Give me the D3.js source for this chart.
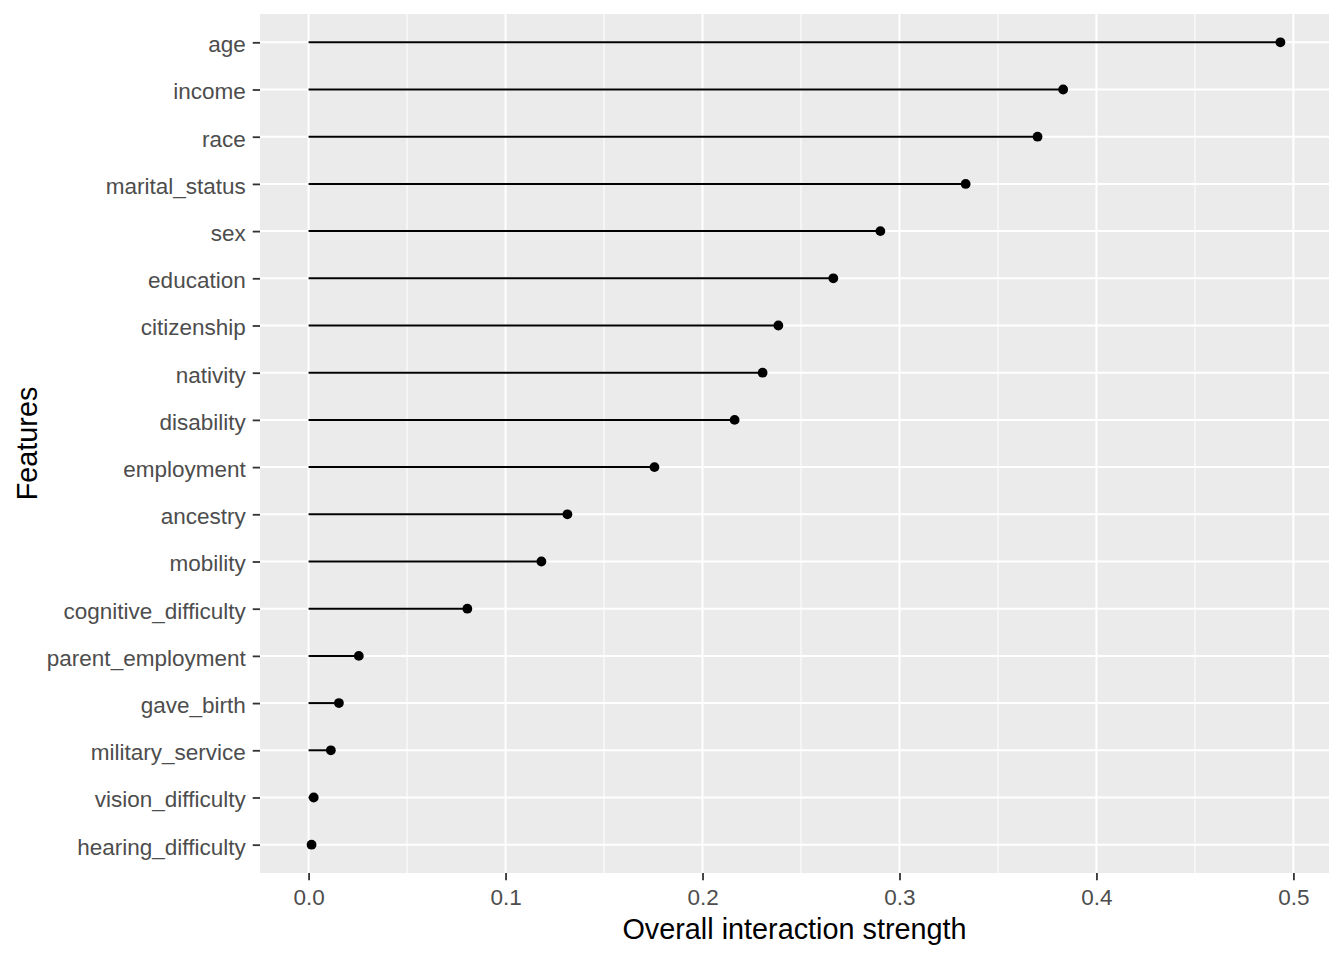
<!DOCTYPE html>
<html>
<head>
<meta charset="utf-8">
<script src="https://cdn.jsdelivr.net/npm/d3@7"></script>
<style>
  html, body { margin: 0; padding: 0; background: #ffffff; }
  svg { display: block; }
  text { font-family: "Liberation Sans", Arial, sans-serif; }
</style>
</head>
<body>
<svg id="chart" width="1344" height="960"></svg>
<script>
// ---- data (top-level named arrays) ----
const features = [
  "age", "income", "race", "marital_status", "sex", "education",
  "citizenship", "nativity", "disability", "employment", "ancestry",
  "mobility", "cognitive_difficulty", "parent_employment", "gave_birth",
  "military_service", "vision_difficulty", "hearing_difficulty"
];
const strength = [
  0.4934, 0.3831, 0.3701, 0.3336, 0.2903, 0.2664,
  0.2385, 0.2305, 0.2163, 0.1756, 0.1314,
  0.1182, 0.0806, 0.0255, 0.0154,
  0.0113, 0.0026, 0.0015
];
const xTicks = [0.0, 0.1, 0.2, 0.3, 0.4, 0.5];
const xMinor = [0.05, 0.15, 0.25, 0.35, 0.45];
const xTitle = "Overall interaction strength";
const yTitle = "Features";

// ---- layout ----
const svg = d3.select("#chart");
const panel = { left: 260, right: 1329, top: 14, bottom: 873 };

const dataMax = d3.max(strength);
const expand = dataMax * 0.05;
const x = d3.scaleLinear()
  .domain([0 - expand, dataMax + expand])
  .range([panel.left, panel.right]);

const y = d3.scalePoint()
  .domain(features)
  .range([panel.top, panel.bottom])
  .padding(0.6);

// panel background
svg.append("rect")
  .attr("x", panel.left).attr("y", panel.top)
  .attr("width", panel.right - panel.left)
  .attr("height", panel.bottom - panel.top)
  .attr("fill", "#EBEBEB");

// minor grid
svg.append("g").selectAll("line").data(xMinor).join("line")
  .attr("x1", d => x(d)).attr("x2", d => x(d))
  .attr("y1", panel.top).attr("y2", panel.bottom)
  .attr("stroke", "#ffffff").attr("stroke-width", 1);

// major grid vertical
svg.append("g").selectAll("line").data(xTicks).join("line")
  .attr("x1", d => x(d)).attr("x2", d => x(d))
  .attr("y1", panel.top).attr("y2", panel.bottom)
  .attr("stroke", "#ffffff").attr("stroke-width", 2);

// major grid horizontal
svg.append("g").selectAll("line").data(features).join("line")
  .attr("x1", panel.left).attr("x2", panel.right)
  .attr("y1", d => y(d)).attr("y2", d => y(d))
  .attr("stroke", "#ffffff").attr("stroke-width", 2);

const rows = features.map((f, i) => ({ f, v: strength[i] }));

// segments
svg.append("g").selectAll("line").data(rows).join("line")
  .attr("x1", x(0)).attr("x2", d => x(d.v))
  .attr("y1", d => y(d.f)).attr("y2", d => y(d.f))
  .attr("stroke", "#000000").attr("stroke-width", 2);

// points
svg.append("g").selectAll("circle").data(rows).join("circle")
  .attr("cx", d => x(d.v)).attr("cy", d => y(d.f))
  .attr("r", 4.9).attr("fill", "#000000");

// x axis
const xAxis = d3.axisBottom(x)
  .tickValues(xTicks)
  .tickFormat(d3.format(".1f"))
  .tickSize(7.3)
  .tickPadding(8.5);
const gx = svg.append("g")
  .attr("transform", `translate(0,${panel.bottom})`)
  .call(xAxis);
gx.select(".domain").remove();
gx.selectAll(".tick line").attr("stroke", "#333333").attr("stroke-width", 1.8);
gx.selectAll(".tick text")
  .attr("fill", "#4D4D4D")
  .attr("font-size", "22.5px")
  .attr("font-family", "Liberation Sans, Arial, sans-serif");

// y axis
const yAxis = d3.axisLeft(y).tickSize(7.3).tickPadding(7);
const gy = svg.append("g")
  .attr("transform", `translate(${panel.left},0)`)
  .call(yAxis);
gy.select(".domain").remove();
gy.selectAll(".tick line").attr("stroke", "#333333").attr("stroke-width", 1.8);
gy.selectAll(".tick text")
  .attr("fill", "#4D4D4D")
  .attr("font-size", "22.5px")
  .attr("dy", "0.42em")
  .attr("font-family", "Liberation Sans, Arial, sans-serif");

// titles
svg.append("text")
  .attr("x", (panel.left + panel.right) / 2)
  .attr("y", 939)
  .attr("text-anchor", "middle")
  .attr("font-size", "28.8px")
  .attr("fill", "#000000")
  .text(xTitle);

svg.append("text")
  .attr("transform", `translate(37,${(panel.top + panel.bottom) / 2}) rotate(-90)`)
  .attr("text-anchor", "middle")
  .attr("font-size", "28.8px")
  .attr("fill", "#000000")
  .text(yTitle);
</script>
</body>
</html>
